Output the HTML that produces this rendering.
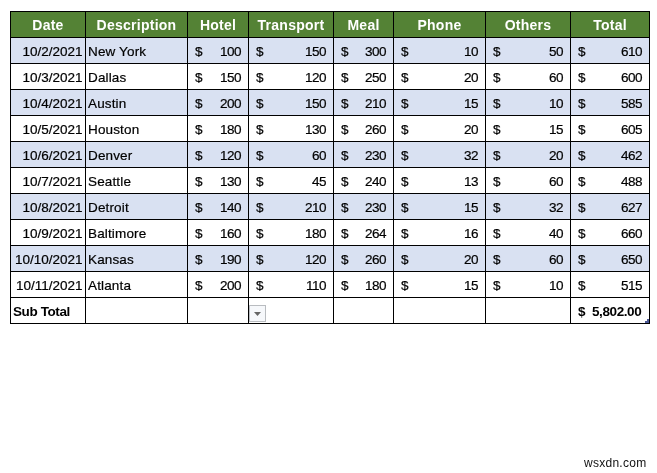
<!DOCTYPE html>
<html><head><meta charset="utf-8"><title>Expense table</title>
<style>
html,body{margin:0;padding:0;background:#fff;}
body{width:657px;height:473px;position:relative;overflow:hidden;font-family:"Liberation Sans",sans-serif;}
#g{position:absolute;left:10px;top:11px;width:640px;height:313px;background:#000;}
.c{position:absolute;height:25px;line-height:27px;font-size:13.5px;color:#000;-webkit-text-stroke:0.2px #000;white-space:nowrap;overflow:hidden;box-sizing:border-box;}
.h{background:#548235;color:#fff;-webkit-text-stroke:0;font-weight:bold;font-size:14px;letter-spacing:0.25px;text-align:center;}
.b{background:#d9e1f2;}
.w{background:#fff;}
.d{text-align:right;padding-right:2.5px;}
.t{text-align:left;padding-left:2px;letter-spacing:0.15px;}
.n{text-align:right;padding-right:6.8px;letter-spacing:-0.4px;}
.n i{position:absolute;left:7px;top:0;font-style:normal;}
.s{font-weight:bold;letter-spacing:-0.4px;-webkit-text-stroke:0;}
.s.t{padding-left:2px;}
.s.n{padding-right:7.7px;}
#dd{position:absolute;left:249px;top:305px;width:15px;height:15px;border:1px solid #b9bcc0;background:#f6f8fb;}
#dd svg{position:absolute;left:0;top:0;}
#hd{position:absolute;left:645px;top:319px;width:4px;height:4px;}
#wm{position:absolute;left:584px;top:456px;font-size:12px;line-height:14px;color:#111;letter-spacing:0.27px;}
</style></head><body>
<div id="g">
<div class="c h" style="left:1px;top:1px;width:74px">Date</div>
<div class="c h" style="left:76px;top:1px;width:101px">Description</div>
<div class="c h" style="left:178px;top:1px;width:60px">Hotel</div>
<div class="c h" style="left:239px;top:1px;width:84px">Transport</div>
<div class="c h" style="left:324px;top:1px;width:59px">Meal</div>
<div class="c h" style="left:384px;top:1px;width:91px">Phone</div>
<div class="c h" style="left:476px;top:1px;width:84px">Others</div>
<div class="c h" style="left:561px;top:1px;width:78px">Total</div>
<div class="c b d" style="left:1px;top:27px;width:74px">10/2/2021</div>
<div class="c b t" style="left:76px;top:27px;width:101px">New York</div>
<div class="c b n" style="left:178px;top:27px;width:60px"><i>$</i>100</div>
<div class="c b n" style="left:239px;top:27px;width:84px"><i>$</i>150</div>
<div class="c b n" style="left:324px;top:27px;width:59px"><i>$</i>300</div>
<div class="c b n" style="left:384px;top:27px;width:91px"><i>$</i>10</div>
<div class="c b n" style="left:476px;top:27px;width:84px"><i>$</i>50</div>
<div class="c b n" style="left:561px;top:27px;width:78px"><i>$</i>610</div>
<div class="c w d" style="left:1px;top:53px;width:74px">10/3/2021</div>
<div class="c w t" style="left:76px;top:53px;width:101px">Dallas</div>
<div class="c w n" style="left:178px;top:53px;width:60px"><i>$</i>150</div>
<div class="c w n" style="left:239px;top:53px;width:84px"><i>$</i>120</div>
<div class="c w n" style="left:324px;top:53px;width:59px"><i>$</i>250</div>
<div class="c w n" style="left:384px;top:53px;width:91px"><i>$</i>20</div>
<div class="c w n" style="left:476px;top:53px;width:84px"><i>$</i>60</div>
<div class="c w n" style="left:561px;top:53px;width:78px"><i>$</i>600</div>
<div class="c b d" style="left:1px;top:79px;width:74px">10/4/2021</div>
<div class="c b t" style="left:76px;top:79px;width:101px">Austin</div>
<div class="c b n" style="left:178px;top:79px;width:60px"><i>$</i>200</div>
<div class="c b n" style="left:239px;top:79px;width:84px"><i>$</i>150</div>
<div class="c b n" style="left:324px;top:79px;width:59px"><i>$</i>210</div>
<div class="c b n" style="left:384px;top:79px;width:91px"><i>$</i>15</div>
<div class="c b n" style="left:476px;top:79px;width:84px"><i>$</i>10</div>
<div class="c b n" style="left:561px;top:79px;width:78px"><i>$</i>585</div>
<div class="c w d" style="left:1px;top:105px;width:74px">10/5/2021</div>
<div class="c w t" style="left:76px;top:105px;width:101px">Houston</div>
<div class="c w n" style="left:178px;top:105px;width:60px"><i>$</i>180</div>
<div class="c w n" style="left:239px;top:105px;width:84px"><i>$</i>130</div>
<div class="c w n" style="left:324px;top:105px;width:59px"><i>$</i>260</div>
<div class="c w n" style="left:384px;top:105px;width:91px"><i>$</i>20</div>
<div class="c w n" style="left:476px;top:105px;width:84px"><i>$</i>15</div>
<div class="c w n" style="left:561px;top:105px;width:78px"><i>$</i>605</div>
<div class="c b d" style="left:1px;top:131px;width:74px">10/6/2021</div>
<div class="c b t" style="left:76px;top:131px;width:101px">Denver</div>
<div class="c b n" style="left:178px;top:131px;width:60px"><i>$</i>120</div>
<div class="c b n" style="left:239px;top:131px;width:84px"><i>$</i>60</div>
<div class="c b n" style="left:324px;top:131px;width:59px"><i>$</i>230</div>
<div class="c b n" style="left:384px;top:131px;width:91px"><i>$</i>32</div>
<div class="c b n" style="left:476px;top:131px;width:84px"><i>$</i>20</div>
<div class="c b n" style="left:561px;top:131px;width:78px"><i>$</i>462</div>
<div class="c w d" style="left:1px;top:157px;width:74px">10/7/2021</div>
<div class="c w t" style="left:76px;top:157px;width:101px">Seattle</div>
<div class="c w n" style="left:178px;top:157px;width:60px"><i>$</i>130</div>
<div class="c w n" style="left:239px;top:157px;width:84px"><i>$</i>45</div>
<div class="c w n" style="left:324px;top:157px;width:59px"><i>$</i>240</div>
<div class="c w n" style="left:384px;top:157px;width:91px"><i>$</i>13</div>
<div class="c w n" style="left:476px;top:157px;width:84px"><i>$</i>60</div>
<div class="c w n" style="left:561px;top:157px;width:78px"><i>$</i>488</div>
<div class="c b d" style="left:1px;top:183px;width:74px">10/8/2021</div>
<div class="c b t" style="left:76px;top:183px;width:101px">Detroit</div>
<div class="c b n" style="left:178px;top:183px;width:60px"><i>$</i>140</div>
<div class="c b n" style="left:239px;top:183px;width:84px"><i>$</i>210</div>
<div class="c b n" style="left:324px;top:183px;width:59px"><i>$</i>230</div>
<div class="c b n" style="left:384px;top:183px;width:91px"><i>$</i>15</div>
<div class="c b n" style="left:476px;top:183px;width:84px"><i>$</i>32</div>
<div class="c b n" style="left:561px;top:183px;width:78px"><i>$</i>627</div>
<div class="c w d" style="left:1px;top:209px;width:74px">10/9/2021</div>
<div class="c w t" style="left:76px;top:209px;width:101px">Baltimore</div>
<div class="c w n" style="left:178px;top:209px;width:60px"><i>$</i>160</div>
<div class="c w n" style="left:239px;top:209px;width:84px"><i>$</i>180</div>
<div class="c w n" style="left:324px;top:209px;width:59px"><i>$</i>264</div>
<div class="c w n" style="left:384px;top:209px;width:91px"><i>$</i>16</div>
<div class="c w n" style="left:476px;top:209px;width:84px"><i>$</i>40</div>
<div class="c w n" style="left:561px;top:209px;width:78px"><i>$</i>660</div>
<div class="c b d" style="left:1px;top:235px;width:74px">10/10/2021</div>
<div class="c b t" style="left:76px;top:235px;width:101px">Kansas</div>
<div class="c b n" style="left:178px;top:235px;width:60px"><i>$</i>190</div>
<div class="c b n" style="left:239px;top:235px;width:84px"><i>$</i>120</div>
<div class="c b n" style="left:324px;top:235px;width:59px"><i>$</i>260</div>
<div class="c b n" style="left:384px;top:235px;width:91px"><i>$</i>20</div>
<div class="c b n" style="left:476px;top:235px;width:84px"><i>$</i>60</div>
<div class="c b n" style="left:561px;top:235px;width:78px"><i>$</i>650</div>
<div class="c w d" style="left:1px;top:261px;width:74px">10/11/2021</div>
<div class="c w t" style="left:76px;top:261px;width:101px">Atlanta</div>
<div class="c w n" style="left:178px;top:261px;width:60px"><i>$</i>200</div>
<div class="c w n" style="left:239px;top:261px;width:84px"><i>$</i>110</div>
<div class="c w n" style="left:324px;top:261px;width:59px"><i>$</i>180</div>
<div class="c w n" style="left:384px;top:261px;width:91px"><i>$</i>15</div>
<div class="c w n" style="left:476px;top:261px;width:84px"><i>$</i>10</div>
<div class="c w n" style="left:561px;top:261px;width:78px"><i>$</i>515</div>
<div class="c w t s" style="left:1px;top:287px;width:74px">Sub Total</div>
<div class="c w" style="left:76px;top:287px;width:101px"></div>
<div class="c w" style="left:178px;top:287px;width:60px"></div>
<div class="c w" style="left:239px;top:287px;width:84px"></div>
<div class="c w" style="left:324px;top:287px;width:59px"></div>
<div class="c w" style="left:384px;top:287px;width:91px"></div>
<div class="c w" style="left:476px;top:287px;width:84px"></div>
<div class="c w n s" style="left:561px;top:287px;width:78px"><i>$</i>5,802.00</div>
</div>
<div id="dd"><svg width="15" height="15" viewBox="0 0 15 15"><polygon points="4,6 11,6 7.5,10" fill="#666"/></svg></div>
<svg id="hd" viewBox="0 0 4 4"><polygon points="0,2 2,2 2,0 4,0 4,4 0,4" fill="#4a5794"/></svg>
<div id="wm">wsxdn.com</div>
</body></html>
